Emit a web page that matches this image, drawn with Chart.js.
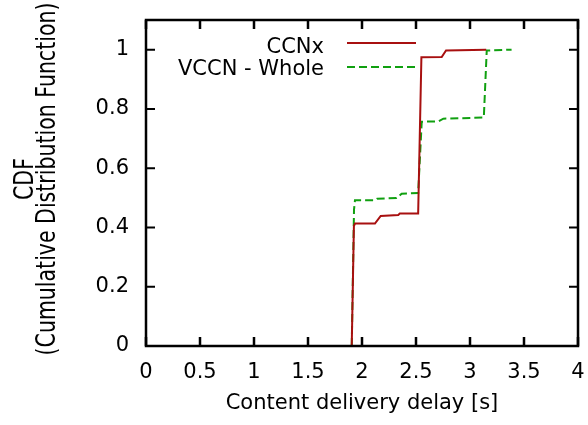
<!DOCTYPE html>
<html>
<head>
<meta charset="utf-8">
<script src="https://cdn.jsdelivr.net/npm/chart.js@4/dist/chart.umd.min.js"></script>
<style>
  html, body { margin: 0; padding: 0; background: #ffffff; }
  #wrap { width: 588px; height: 425px; }
</style>
</head>
<body>
<div id="wrap"><canvas id="cdf" width="588" height="425"></canvas></div>
<script>
// Empirical CDF of content delivery delay (seconds)
const ccnxDelay = [1.905, 1.925, 1.935, 2.120, 2.173, 2.336, 2.350, 2.520, 2.550, 2.738, 2.778, 3.150];
const ccnxCdf   = [0.000, 0.405, 0.413, 0.413, 0.439, 0.442, 0.447, 0.447, 0.974, 0.975, 0.997, 1.000];

const vccnDelay = [1.905, 1.926, 1.935, 2.120, 2.140, 2.320, 2.367, 2.520, 2.553, 2.707, 2.753, 3.128, 3.155, 3.385];
const vccnCdf   = [0.000, 0.460, 0.492, 0.492, 0.497, 0.499, 0.514, 0.516, 0.757, 0.758, 0.767, 0.771, 0.997, 1.000];

const seriesNames = ['CCNx', 'VCCN - Whole'];
const xTitle = 'Content delivery delay [s]';
const yTitle = ['CDF', '(Cumulative Distribution Function)'];

const FONT = 'DejaVu Sans';
const RED = '#a81010';
const GREEN = '#10a010';

const toPoints = (xs, ys) => xs.map((x, i) => ({ x: x, y: ys[i] }));
const trimNumber = v => String(Number(Number(v).toFixed(2)));
const noScalePadding = scale => {
  scale.paddingTop = 0; scale.paddingBottom = 0;
  scale.paddingLeft = 0; scale.paddingRight = 0;
};

// gnuplot-style frame: full border with inward ticks mirrored on all sides
const framePlugin = {
  id: 'frame',
  afterDatasetsDraw(chart) {
    const { ctx, chartArea: a, scales } = chart;
    const len = 9;
    ctx.save();
    ctx.strokeStyle = '#000';
    ctx.lineCap = 'butt';
    ctx.lineWidth = 2.5;
    scales.x.ticks.forEach(t => {
      const px = scales.x.getPixelForValue(t.value);
      ctx.beginPath();
      ctx.moveTo(px, a.bottom); ctx.lineTo(px, a.bottom - len);
      ctx.moveTo(px, a.top); ctx.lineTo(px, a.top + len);
      ctx.stroke();
    });
    ctx.lineWidth = 2;
    scales.y.ticks.forEach(t => {
      const py = scales.y.getPixelForValue(t.value);
      ctx.beginPath();
      ctx.moveTo(a.left, py); ctx.lineTo(a.left + len, py);
      ctx.moveTo(a.right, py); ctx.lineTo(a.right - len, py);
      ctx.stroke();
    });
    ctx.lineWidth = 2.5;
    ctx.strokeRect(a.left, a.top, a.right - a.left, a.bottom - a.top);
    ctx.restore();
  }
};

// Two-line rotated y-axis caption, drawn a little tall like the rest of the figure
const yCaptionPlugin = {
  id: 'yCaption',
  afterDraw(chart) {
    const { ctx, chartArea: a } = chart;
    const centerY = (a.top + a.bottom) / 2 - 4;
    const baselines = [33, 55];
    ctx.save();
    ctx.font = '20.5px "' + FONT + '"';
    ctx.fillStyle = '#000';
    ctx.textAlign = 'center';
    ctx.textBaseline = 'alphabetic';
    yTitle.forEach((line, i) => {
      ctx.save();
      ctx.translate(baselines[i], centerY);
      ctx.rotate(-Math.PI / 2);
      ctx.scale(1, 1.28);
      ctx.fillText(line, 0, 0);
      ctx.restore();
    });
    ctx.restore();
  }
};

// Key in the upper-left of the plot: right-aligned names followed by line samples
const keyPlugin = {
  id: 'key',
  afterDraw(chart) {
    const { ctx, chartArea: a } = chart;
    const textRight = a.left + 178;
    const lineStart = a.left + 201;
    const lineEnd = a.left + 270;
    const rows = [
      { y: a.top + 23, base: a.top + 33 },
      { y: a.top + 47, base: a.top + 55 }
    ];
    ctx.save();
    ctx.font = '21px "' + FONT + '"';
    ctx.fillStyle = '#000';
    ctx.textAlign = 'right';
    ctx.textBaseline = 'alphabetic';
    chart.data.datasets.forEach((ds, i) => {
      ctx.fillText(ds.label, textRight, rows[i].base);
      ctx.beginPath();
      ctx.strokeStyle = ds.borderColor;
      ctx.lineWidth = ds.borderWidth;
      ctx.setLineDash(ds.borderDash || []);
      ctx.moveTo(lineStart, rows[i].y);
      ctx.lineTo(lineEnd, rows[i].y);
      ctx.stroke();
    });
    ctx.restore();
  }
};

new Chart(document.getElementById('cdf'), {
  type: 'scatter',
  data: {
    datasets: [
      {
        label: seriesNames[0],
        data: toPoints(ccnxDelay, ccnxCdf),
        showLine: true,
        borderColor: RED,
        borderWidth: 2,
        pointRadius: 0,
        tension: 0,
        fill: false
      },
      {
        label: seriesNames[1],
        data: toPoints(vccnDelay, vccnCdf),
        showLine: true,
        borderColor: GREEN,
        borderWidth: 2,
        borderDash: [8, 4],
        pointRadius: 0,
        tension: 0,
        fill: false
      }
    ]
  },
  options: {
    responsive: false,
    animation: false,
    devicePixelRatio: 1,
    layout: { padding: { top: 20, right: 10, left: 0, bottom: 0 } },
    plugins: {
      legend: { display: false },
      tooltip: { enabled: false }
    },
    scales: {
      x: {
        type: 'linear',
        min: 0,
        max: 4,
        ticks: {
          stepSize: 0.5,
          color: '#000',
          padding: 14,
          maxRotation: 0,
          font: { family: FONT, size: 21 },
          callback: v => trimNumber(v)
        },
        grid: { display: false, drawTicks: false },
        border: { display: false },
        title: {
          display: true,
          text: xTitle,
          color: '#000',
          font: { family: FONT, size: 21 },
          padding: { top: 0, bottom: 9 }
        },
        afterFit(scale) { scale.height = 79; noScalePadding(scale); }
      },
      y: {
        type: 'linear',
        min: 0,
        max: 1.1,
        afterBuildTicks(scale) {
          scale.ticks = scale.ticks.filter(t => t.value <= 1.0001);
        },
        ticks: {
          stepSize: 0.2,
          color: '#000',
          padding: 17,
          font: { family: FONT, size: 21 },
          callback: v => trimNumber(v)
        },
        grid: { display: false, drawTicks: false },
        border: { display: false },
        title: { display: false },
        afterFit(scale) { scale.width = 146; noScalePadding(scale); }
      }
    }
  },
  plugins: [framePlugin, yCaptionPlugin, keyPlugin]
});
</script>
</body>
</html>
